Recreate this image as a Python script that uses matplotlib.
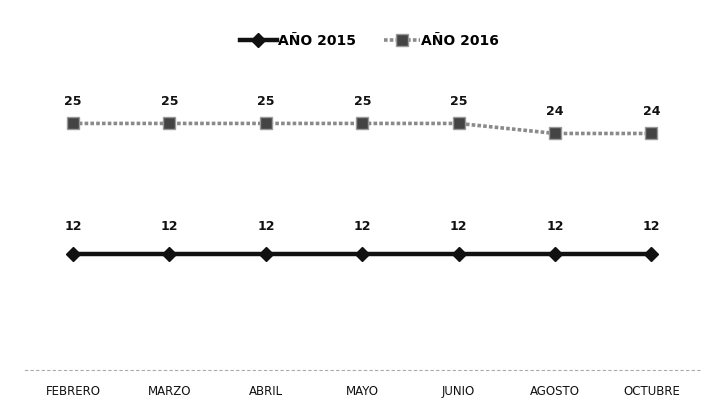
import matplotlib.pyplot as plt

meses = ["FEBRERO", "MARZO", "ABRIL", "MAYO", "JUNIO", "AGOSTO", "OCTUBRE"]
valores_2015 = [12, 12, 12, 12, 12, 12, 12]
valores_2016 = [25, 25, 25, 25, 25, 24, 24]


def main():
    fig = plt.figure(figsize=(7.11, 4.08), dpi=100)
    ax = fig.add_axes([0.035, 0.093, 0.949, 0.86])

    x = list(range(len(meses)))

    ax.plot(x, valores_2015, color="#111111", linewidth=3.2, marker="D",
            markersize=7, label="AÑO 2015", zorder=3)
    ax.plot(x, valores_2016, color="#8a8a8a", linewidth=2.6, linestyle=(0, (1, 0.6)),
            marker="s", markersize=9, markerfacecolor="#444444",
            markeredgecolor="#999999", label="AÑO 2016", zorder=3)

    # value labels above each point
    for xi, v in zip(x, valores_2015):
        ax.annotate(str(v), (xi, v), xytext=(0, 17), textcoords="offset points",
                    ha="center", fontsize=9, fontweight="bold", color="#111111")
    for xi, v in zip(x, valores_2016):
        ax.annotate(str(v), (xi, v), xytext=(0, 13), textcoords="offset points",
                    ha="center", fontsize=9, fontweight="bold", color="#111111")

    ax.set_xlim(-0.5, len(meses) - 0.5)
    ax.set_ylim(0.4, 35.4)
    ax.set_xticks(x)
    ax.set_xticklabels(meses, fontsize=8.5, color="#111111")
    ax.tick_params(axis="x", length=0, pad=11)
    ax.set_yticks([])

    for side in ["top", "right", "left"]:
        ax.spines[side].set_visible(False)
    ax.spines["bottom"].set_color("#aaaaaa")
    ax.spines["bottom"].set_linestyle((0, (2, 3)))
    ax.spines["bottom"].set_linewidth(0.8)

    fig.legend(loc="upper center", bbox_to_anchor=(0.52, 0.948), ncol=2,
               frameon=False, prop={"weight": "bold", "size": 10},
               handlelength=2.6, columnspacing=2.0, handletextpad=0.1)

    fig.savefig("out.png", dpi=100)


if __name__ == "__main__":
    main()
